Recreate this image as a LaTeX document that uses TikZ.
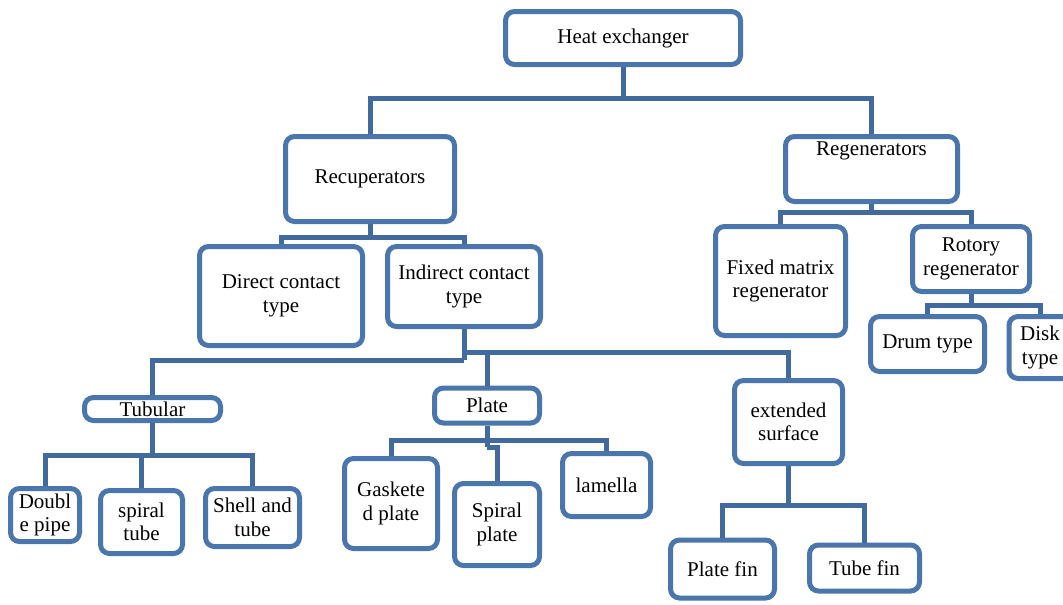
\documentclass[tikz,border=0pt]{standalone}
\usepackage{fontspec}
\setmainfont{Liberation Serif}
\definecolor{boxblue}{RGB}{74,118,172}
\definecolor{lineblue}{RGB}{66,106,156}

\begin{document}
\begin{tikzpicture}[x=1pt,y=-1pt,
  box/.style={draw=boxblue,line width=5pt,rounded corners=9pt,fill=white,
    align=center,inner sep=2pt,font=\fontsize{21}{23.5}\selectfont},
  link/.style={draw=lineblue,line width=5pt}]
  \useasboundingbox (0,0) rectangle (1063,605);
  \clip (0,0) rectangle (1063,605);
  \node[box,minimum width=235pt,minimum height=53pt] (heat) at (623,38) {Heat exchanger};
  \node[box,minimum width=169pt,minimum height=85pt] (recup) at (370,179) {Recuperators};
  \node[box,minimum width=172pt,minimum height=65pt,text depth=40pt] (regen) at (871.5,169) {Regenerators};
  \node[box,minimum width=163pt,minimum height=99pt] (direct) at (281,296) {Direct contact\\type};
  \node[box,minimum width=153pt,minimum height=80pt] (indirect) at (464,286.5) {Indirect contact\\type};
  \node[box,minimum width=130pt,minimum height=109pt] (fixed) at (780.5,281) {Fixed matrix\\regenerator};
  \node[box,minimum width=117pt,minimum height=65pt] (rotory) at (971,259) {Rotory\\regenerator};
  \node[box,minimum width=114pt,minimum height=55pt] (drum) at (927.5,344) {Drum type};
  \node[box,minimum width=62pt,minimum height=62pt] (disk) at (1040,347.5) {Disk\\type};
  \node[box,minimum width=136pt,minimum height=23pt,inner ysep=0pt] (tubular) at (152.5,409) {Tubular};
  \node[box,minimum width=69pt,minimum height=53pt] (double) at (45,515) {Doubl\\e pipe};
  \node[box,minimum width=82pt,minimum height=63pt] (spiraltube) at (141.5,522) {spiral\\tube};
  \node[box,minimum width=94pt,minimum height=58pt] (shell) at (252.5,517.5) {Shell and\\tube};
  \node[box,minimum width=105pt,minimum height=35pt] (plate) at (487,405.5) {Plate};
  \node[box,minimum width=93pt,minimum height=90pt] (gasket) at (391,503.5) {Gaskete\\d plate};
  \node[box,minimum width=85pt,minimum height=82pt] (spiralplate) at (497,524.5) {Spiral\\plate};
  \node[box,minimum width=88pt,minimum height=63pt] (lamella) at (606.5,485) {lamella};
  \node[box,minimum width=108pt,minimum height=83pt] (ext) at (788.5,422) {extended\\surface};
  \node[box,minimum width=104pt,minimum height=58pt] (platefin) at (722.5,569) {Plate fin};
  \node[box,minimum width=110pt,minimum height=46pt] (tubefin) at (864.5,568) {Tube fin};
  \coordinate (j1) at (623,98);
  \coordinate (j2) at (370,237);
  \coordinate (j3) at (871.5,212);
  \coordinate (j4) at (971,305);
  \coordinate (j5) at (464,360);
  \coordinate (j6) at (464,352);
  \coordinate (j7) at (152.5,455);
  \coordinate (j8) at (487,440);
  \coordinate (j9) at (487,447);
  \coordinate (j10) at (788.5,505);
  \path[link] (heat.south) -- (j1) (j1) -| (recup.north) (j1) -| (regen.north)
        (recup.south) -- (j2) (j2) -| (direct.north) (j2) -| (indirect.north)
        (regen.south) -- (j3) (j3) -| (fixed.north) (j3) -| (rotory.north)
        (rotory.south) -- (j4) (j4) -| (drum.north) (j4) -| (disk.north)
        (indirect.south) -- (j5) (j5) -| (tubular.north)
        (j6) -| (plate.north) (j6) -| (ext.north)
        (tubular.south) -- (j7) (j7) -| (double.north) (j7) -| (spiraltube.north) (j7) -| (shell.north)
        (plate.south) -- (j9) (j8) -| (gasket.north) (j8) -| (lamella.north) (j9) -| (spiralplate.north)
        (ext.south) -- (j10) (j10) -| (platefin.north) (j10) -| (tubefin.north);
\end{tikzpicture}
\end{document}
